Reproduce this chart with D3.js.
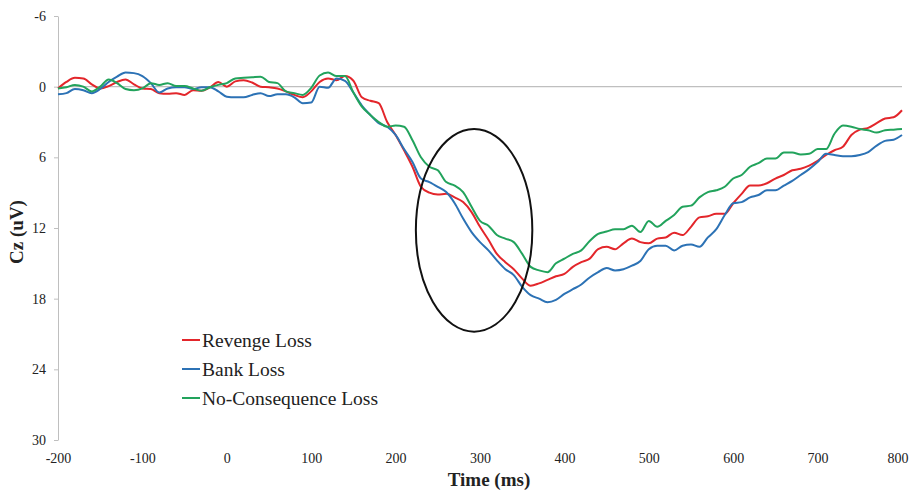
<!DOCTYPE html>
<html>
<head>
<meta charset="utf-8">
<script src="https://cdn.jsdelivr.net/npm/d3@7"></script>
<style>
  body { margin: 0; background: #fff; }
  svg { display: block; }
  text { font-family: "Liberation Serif", "Times New Roman", serif; fill: #222; }
</style>
</head>
<body>
<div id="chart"></div>
<script>
(function() {

  // sample times (ms)
  var times = [-200,-190,-180,-170,-160,-150,-140,-130,-120,-110,-100,-90,-80,-70,-60,-50,-40,-30,-20,-10,
    0,10,20,30,40,50,60,70,80,90,100,110,120,130,140,150,160,170,180,190,
    200,210,220,230,240,250,260,270,280,290,300,310,320,330,340,350,360,370,380,390,
    400,410,420,430,440,450,460,470,480,490,500,510,520,530,540,550,560,570,580,590,
    600,610,620,630,640,650,660,670,680,690,700,710,720,730,740,750,760,770,780,790,800];

  var revenge = [0.15,-0.4,-0.75,-0.7,-0.2,0.15,-0.05,-0.4,-0.6,-0.2,0.15,0.2,0.55,0.6,0.55,0.7,0.3,0.35,0.05,-0.4,
    0,-0.45,-0.55,-0.35,0,0.05,0.15,0.4,0.7,0.9,0.4,-0.4,-0.7,-0.55,-0.9,-0.5,0.9,1.2,1.4,3.0,
    4.1,5.4,6.8,8.5,9.0,9.15,9.1,9.4,9.8,10.65,11.9,13.0,14.2,14.9,15.5,16.3,16.9,16.7,16.4,16.1,
    15.9,15.3,14.9,14.6,13.8,13.6,13.8,13.3,12.9,13.2,13.3,12.9,12.8,12.4,12.6,11.9,11.1,11.0,10.8,10.8,
    9.9,9.1,8.4,8.4,8.2,7.8,7.5,7.1,6.97,6.7,6.3,5.8,5.4,5.1,4.1,3.65,3.5,3.1,2.7,2.6,2.0];

  var bank = [0.65,0.55,0.2,0.3,0.55,0.2,-0.4,-0.85,-1.2,-1.15,-0.9,-0.3,0.5,0.15,0.05,0.05,0.2,0.05,0.05,0.4,
    0.85,0.9,0.9,0.7,0.55,0.8,0.65,0.65,0.9,1.4,1.35,0.0,0.1,-0.7,-0.5,0.5,1.6,2.4,3.1,3.4,
    4.1,5.3,6.4,7.8,8.1,8.5,8.95,9.9,11.2,12.35,13.2,13.9,14.75,15.5,16.0,17.0,17.7,18.0,18.3,18.1,
    17.6,17.2,16.8,16.2,15.75,15.4,15.6,15.5,15.2,14.8,13.8,13.5,13.5,13.9,13.5,13.4,13.6,12.8,12.1,10.9,
    9.9,9.8,9.4,9.2,8.8,8.8,8.4,8.0,7.5,7.0,6.4,5.7,5.8,5.9,5.9,5.8,5.55,5.0,4.6,4.5,4.1];

  var noConsequence = [0.15,0.05,-0.15,0,0.4,0,-0.6,-0.3,0.2,0.3,0.15,-0.3,-0.15,-0.3,-0.05,-0.05,0.15,0.35,0.05,-0.15,
    -0.3,-0.7,-0.75,-0.8,-0.85,-0.4,-0.3,0.4,0.55,0.7,0.1,-0.95,-1.2,-0.9,-0.9,0.5,1.7,2.4,3.0,3.4,
    3.3,3.4,4.55,6.0,6.8,7.1,8.1,8.4,8.95,10.2,11.4,11.8,12.6,12.9,13.2,14.2,15.3,15.6,15.75,15.0,
    14.6,14.2,13.9,13.1,12.5,12.3,12.1,12.1,11.8,12.35,11.4,11.9,11.4,10.9,10.2,10.1,9.4,8.95,8.8,8.5,
    7.8,7.5,6.8,6.5,6.1,6.1,5.6,5.6,5.75,5.7,5.3,5.3,4.0,3.3,3.4,3.6,3.7,3.9,3.7,3.65,3.6];

  var seriesNames = ["Revenge Loss", "Bank Loss", "No-Consequence Loss"];
  var seriesColors = ["#e3262b", "#2c72b5", "#22a35c"];
  var seriesValues = [revenge, bank, noConsequence];

  var xTicks = [-200,-100,0,100,200,300,400,500,600,700,800];
  var yTicks = [-6,0,6,12,18,24,30];

  // highlighted window (ms, uV)
  var ring = { t: 293, v: 12.2, rt: 69, rv: 8.6 };

  var width = 909, height = 492;

  var svg = d3.select("#chart").append("svg")
    .attr("width", width)
    .attr("height", height);

  var x = d3.scaleLinear().domain([-200, 800]).range([58, 902]);
  var y = d3.scaleLinear().domain([-6, 30]).range([16, 440]);

  // plain hyphen for negatives, like the original
  var fmt = function(d) { return String(d); };

  //y axis
  var yAxis = svg.append("g")
    .attr("transform", "translate(" + x(-200) + ",0)")
    .call(d3.axisLeft(y).tickValues(yTicks).tickFormat(fmt).tickSize(4).tickPadding(8).tickSizeOuter(0));
  yAxis.select(".domain").attr("stroke", "#bfbfbf");
  yAxis.selectAll(".tick line").attr("stroke", "#bfbfbf");
  yAxis.selectAll("text")
    .style("font-family", "Liberation Serif")
    .style("font-size", "14px")
    .attr("fill", "#222");

  //x labels at bottom, axis line at zero
  var xAxis = svg.append("g")
    .attr("transform", "translate(0,450)")
    .call(d3.axisBottom(x).tickValues(xTicks).tickFormat(fmt).tickSize(0).tickPadding(3));
  xAxis.select(".domain").remove();
  xAxis.selectAll("text")
    .style("font-family", "Liberation Serif")
    .style("font-size", "14px")
    .attr("fill", "#222");
  // last label sits against the right edge
  xAxis.selectAll("text").filter(function(d) { return d === 800; })
    .attr("text-anchor", "end")
    .attr("x", width - 1 - x(800));

  svg.append("line")
    .attr("x1", x(-200)).attr("x2", x(800))
    .attr("y1", y(0)).attr("y2", y(0))
    .attr("stroke", "#bfbfbf")
    .attr("stroke-width", 1.2);

  //waveforms
  var line = d3.line()
    .x(function(d) { return x(d[0]); })
    .y(function(d) { return y(d[1]); })
    .curve(d3.curveMonotoneX);

  seriesValues.forEach(function(vals, i) {
    var pts = times.map(function(t, j) { return [t, vals[j]]; })
      .filter(function(p) { return p[1] !== undefined; });
    svg.append("path")
      .datum(pts)
      .attr("fill", "none")
      .attr("stroke", seriesColors[i])
      .attr("stroke-width", 2)
      .attr("stroke-linejoin", "round")
      .attr("d", line);
  });

  //ellipse annotation
  svg.append("ellipse")
    .attr("cx", x(ring.t))
    .attr("cy", y(ring.v))
    .attr("rx", x(ring.t + ring.rt) - x(ring.t))
    .attr("ry", y(ring.v + ring.rv) - y(ring.v))
    .attr("fill", "none")
    .attr("stroke", "#111")
    .attr("stroke-width", 2);

  //legend
  var legend = svg.append("g").attr("transform", "translate(182,340)");
  seriesNames.forEach(function(name, i) {
    var row = legend.append("g").attr("transform", "translate(0," + (i * 29) + ")");
    row.append("line")
      .attr("x1", 0).attr("x2", 18)
      .attr("stroke", seriesColors[i])
      .attr("stroke-width", 2);
    row.append("text")
      .attr("x", 20)
      .attr("dy", "0.35em")
      .style("font-size", "19.5px")
      .text(name);
  });

  //axis titles
  svg.append("text")
    .attr("x", 489)
    .attr("y", 486)
    .attr("text-anchor", "middle")
    .style("font-size", "19px")
    .style("font-weight", "bold")
    .text("Time (ms)");

  svg.append("text")
    .attr("transform", "translate(23,232) rotate(-90)")
    .attr("text-anchor", "middle")
    .style("font-size", "19px")
    .style("font-weight", "bold")
    .text("Cz (uV)");

})();
</script>
</body>
</html>
